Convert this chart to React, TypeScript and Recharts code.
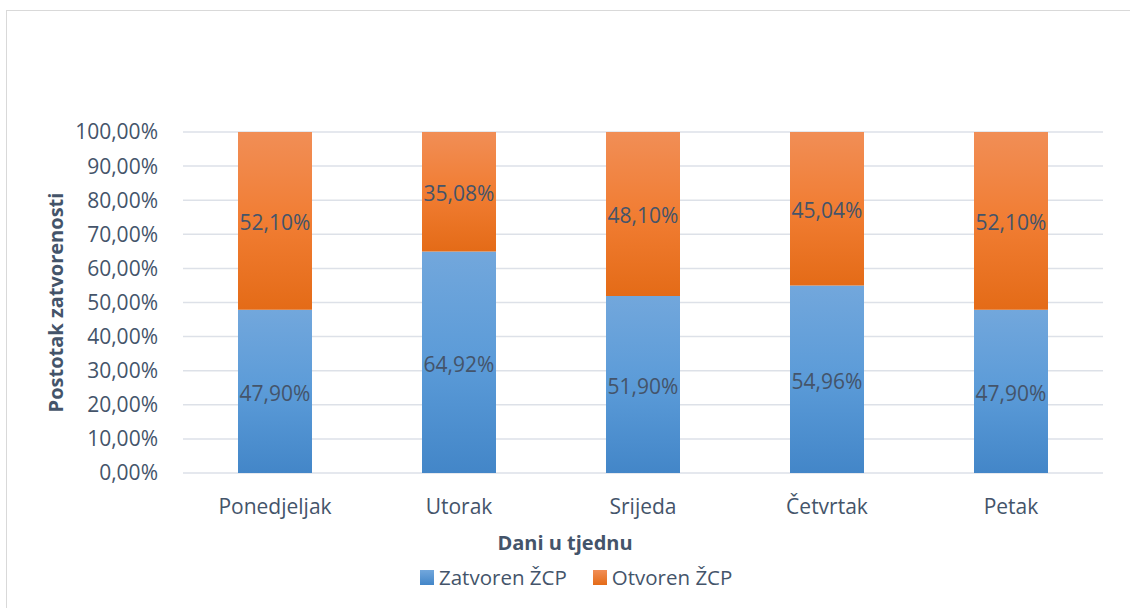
import { Bar, BarChart, CartesianGrid, LabelList, XAxis, YAxis } from 'recharts';

const days = ['Ponedjeljak', 'Utorak', 'Srijeda', 'Četvrtak', 'Petak'];
const closedValues = [47.9, 64.92, 51.9, 54.96, 47.9];
const openValues = [52.1, 35.08, 48.1, 45.04, 52.1];
const yTicks = [0, 10, 20, 30, 40, 50, 60, 70, 80, 90, 100];

const TEXT = '#44546a';
const FONT = '"Open Sans", sans-serif';

const data = days.map((day, i) => ({
    day,
    closed: closedValues[i],
    open: openValues[i],
}));

const pct = (v: number) => `${v.toFixed(2).replace('.', ',')}%`;

function LegendItem({ color, label }: { color: string; label: string }) {
    return (
        <div style={{ display: 'flex', alignItems: 'center', marginRight: 26 }}>
            <div
                style={{
                    width: 14,
                    height: 15,
                    background: color,
                    marginRight: 5,
                }}
            />
            <span>{label}</span>
        </div>
    );
}

export default function App() {
    return (
        <div
            style={{
                position: 'absolute',
                left: 0,
                top: 0,
                width: 1130,
                height: 608,
                background: '#fff',
                overflow: 'hidden',
                fontFamily: FONT,
            }}
        >
            <div
                style={{
                    position: 'absolute',
                    left: 6,
                    top: 10,
                    width: 1140,
                    height: 620,
                    border: '1px solid #d9d9d9',
                }}
            />
            <div style={{ position: 'absolute', left: 0, top: 0 }}>
                <BarChart
                    width={1130}
                    height={608}
                    data={data}
                    margin={{ top: 132, right: 27, left: 0, bottom: 0 }}
                    style={{ fontFamily: FONT }}
                >
                    <defs>
                        <linearGradient id="gBlue" x1="0" y1="0" x2="0" y2="1">
                            <stop offset="0%" stopColor="#72a7dc" />
                            <stop offset="50%" stopColor="#5b9bd8" />
                            <stop offset="100%" stopColor="#4386c8" />
                        </linearGradient>
                        <linearGradient id="gOrange" x1="0" y1="0" x2="0" y2="1">
                            <stop offset="0%" stopColor="#f18e56" />
                            <stop offset="50%" stopColor="#f17d33" />
                            <stop offset="100%" stopColor="#e46b17" />
                        </linearGradient>
                    </defs>
                    <CartesianGrid
                        vertical={false}
                        stroke="#dde1e8"
                        strokeWidth={1.5}
                    />
                    <XAxis
                        dataKey="day"
                        height={135}
                        axisLine={false}
                        tickLine={false}
                        tickSize={0}
                        tickMargin={26}
                        tick={{ fill: TEXT, fontSize: 21 }}
                        label={{
                            value: 'Dani u tjednu',
                            position: 'center',
                            dx: -78,
                            dy: 2,
                            fill: TEXT,
                            fontSize: 20,
                            fontWeight: 700,
                        }}
                    />
                    <YAxis
                        width={183}
                        domain={[0, 100]}
                        ticks={yTicks}
                        interval={0}
                        axisLine={false}
                        tickLine={false}
                        tickSize={0}
                        tickMargin={25}
                        tickFormatter={pct}
                        tick={{ fill: TEXT, fontSize: 21 }}
                        label={{
                            value: 'Postotak zatvorenosti',
                            angle: -90,
                            position: 'center',
                            dx: -36,
                            fill: TEXT,
                            fontSize: 20,
                            fontWeight: 700,
                        }}
                    />
                    <Bar
                        dataKey="closed"
                        stackId="a"
                        barSize={74}
                        fill="url(#gBlue)"
                        isAnimationActive={false}
                    >
                        <LabelList
                            dataKey="closed"
                            position="center"
                            formatter={(v: number) => pct(v)}
                            fill={TEXT}
                            fontSize={21}
                            dy={2}
                        />
                    </Bar>
                    <Bar
                        dataKey="open"
                        stackId="a"
                        barSize={74}
                        fill="url(#gOrange)"
                        isAnimationActive={false}
                    >
                        <LabelList
                            dataKey="open"
                            position="center"
                            formatter={(v: number) => pct(v)}
                            fill={TEXT}
                            fontSize={21}
                            dy={2}
                        />
                    </Bar>
                </BarChart>
            </div>
            <div
                style={{
                    position: 'absolute',
                    left: 420,
                    top: 563,
                    display: 'flex',
                    color: TEXT,
                    fontSize: 20.5,
                    lineHeight: '28px',
                }}
            >
                <LegendItem color="linear-gradient(#72a7dc, #4386c8)" label="Zatvoren ŽCP" />
                <LegendItem color="linear-gradient(#f18e56, #e46b17)" label="Otvoren ŽCP" />
            </div>
        </div>
    );
}
